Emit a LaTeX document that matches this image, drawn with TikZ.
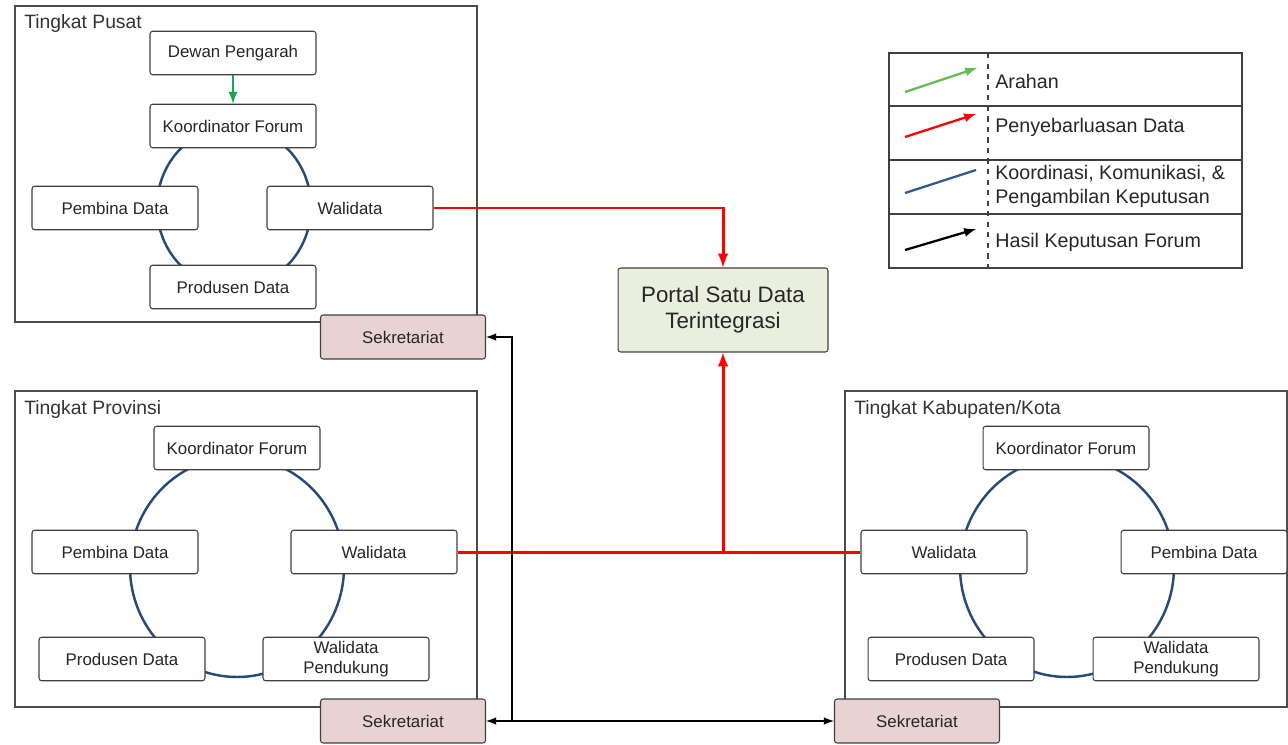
\documentclass[tikz,border=0pt]{standalone}
\usepackage{fontspec}
\setmainfont{Liberation Sans}
\usetikzlibrary{calc}

\definecolor{sekpink}{HTML}{E8D2D2}
\definecolor{portalgreen}{HTML}{E9EEDF}
\definecolor{cyclenavy}{HTML}{284A78}
\definecolor{arahgreen}{HTML}{1AA550}
\definecolor{legendgreen}{HTML}{66BB55}
\definecolor{legendblue}{HTML}{2E5A8E}

\tikzset{
  unitbox/.style={draw=black!75, fill=white, rounded corners=1.5pt, line width=0.6pt,
    minimum width=3.32cm, minimum height=0.87cm, inner sep=1pt, align=center,
    font=\fontsize{9.6}{11.4}\selectfont, text=black!85},
  sekbox/.style={unitbox, fill=sekpink, minimum width=3.3cm, minimum height=0.88cm},
  portalbox/.style={unitbox, fill=portalgreen, minimum width=4.2cm, minimum height=1.68cm,
    font=\fontsize{12.7}{15}\selectfont},
  panel/.style={draw=black!70, line width=0.7pt},
  paneltitle/.style={anchor=west, inner sep=0pt, font=\fontsize{11}{13}\selectfont, text=black!80},
  cycleline/.style={draw=cyclenavy, line width=1.4pt},
  redline/.style={draw=red, line width=1.7pt},
  blackline/.style={draw=black, line width=1pt},
  legendtext/.style={anchor=west, inner sep=0pt, align=left,
    font=\fontsize{11.2}{13.6}\selectfont, text=black!85}
}

\begin{document}
\begin{tikzpicture}[x=0.02cm, y=-0.02cm, >=latex]
  \useasboundingbox (0,0) rectangle (1288,744);

  % panels
  \draw[panel] (15,6) rectangle (477,322);
  \draw[panel] (15,391) rectangle (477,707);
  \draw[panel] (845,391) rectangle (1287,707);
  \node[paneltitle] (tPusat) at (24,24) {Tingkat Pusat};
  \node[paneltitle] (tProv) at (24,409) {Tingkat Provinsi};
  \node[paneltitle] (tKab) at (854,409) {Tingkat Kabupaten/Kota};

  % cycles
  \draw[cycleline] (234,207) ellipse [x radius=77, y radius=81];
  \draw[cycleline] (237,567) ellipse [x radius=107, y radius=110];
  \draw[cycleline] (1067,567) ellipse [x radius=107, y radius=110];

  % tingkat pusat
  \node[unitbox] (dewan) at (233,53) {Dewan Pengarah};
  \node[unitbox] (koorPusat) at (233,126) {Koordinator Forum};
  \node[unitbox] (pembinaPusat) at (115,208) {Pembina Data};
  \node[unitbox] (walidataPusat) at (350,208) {Walidata};
  \node[unitbox] (produsenPusat) at (233,287) {Produsen Data};
  \draw[draw=arahgreen, line width=1.3pt, ->] (dewan) -- (koorPusat);

  % tingkat provinsi
  \node[unitbox] (koorProv) at (237,448) {Koordinator Forum};
  \node[unitbox] (pembinaProv) at (115,552) {Pembina Data};
  \node[unitbox] (walidataProv) at (374,552) {Walidata};
  \node[unitbox] (produsenProv) at (122,659) {Produsen Data};
  \node[unitbox] (pendukungProv) at (346,659) {Walidata\\Pendukung};

  % tingkat kabupaten/kota
  \node[unitbox] (koorKab) at (1066,448) {Koordinator Forum};
  \node[unitbox] (walidataKab) at (944,552) {Walidata};
  \node[unitbox] (pembinaKab) at (1204,552) {Pembina Data};
  \node[unitbox] (produsenKab) at (951,659) {Produsen Data};
  \node[unitbox] (pendukungKab) at (1176,659) {Walidata\\Pendukung};

  % sekretariat
  \node[sekbox] (sekPusat) at (403,337) {Sekretariat};
  \node[sekbox] (sekProv) at (403,721) {Sekretariat};
  \node[sekbox] (sekKab) at (917,721) {Sekretariat};

  % portal
  \node[portalbox] (portal) at (723,310) {Portal Satu Data\\Terintegrasi};

  % penyebarluasan data
  \draw[redline, ->] (walidataPusat.east) -| (portal.north);
  \draw[redline] (walidataProv.east) -- (walidataKab.west);
  \draw[redline, ->] (walidataProv.east -| portal.south) -- (portal.south);

  % hasil keputusan forum
  \coordinate (bend) at (512,721);
  \draw[blackline, <->] (sekProv.east) -- (sekKab.west);
  \draw[blackline, ->] (bend) |- (sekPusat.east);

  % legend
  \draw[draw=black!75, line width=0.7pt] (889,53) rectangle (1242,268);
  \draw[draw=black!75, line width=0.7pt] (889,106) -- (1242,106);
  \draw[draw=black!75, line width=0.7pt] (889,160) -- (1242,160);
  \draw[draw=black!75, line width=0.7pt] (889,214) -- (1242,214);
  \draw[draw=black!75, dashed, line width=0.6pt] (988,53) -- (988,268);
  \draw[draw=legendgreen, line width=1.3pt, ->] (905,92) -- (977,68);
  \draw[draw=red, line width=1.3pt, ->] (905,137) -- (976,114);
  \draw[draw=legendblue, line width=1.3pt] (905,193) -- (976,170);
  \draw[draw=black, line width=1.3pt, ->] (905,250) -- (976,229);
  \node[legendtext] (lArahan) at (995,81) {Arahan};
  \node[legendtext] (lSebar) at (995,127) {Penyebarluasan Data};
  \node[legendtext] (lKoord) at (995,186) {Koordinasi, Komunikasi, \&\\Pengambilan Keputusan};
  \node[legendtext] (lHasil) at (995,242) {Hasil Keputusan Forum};
\end{tikzpicture}
\end{document}
